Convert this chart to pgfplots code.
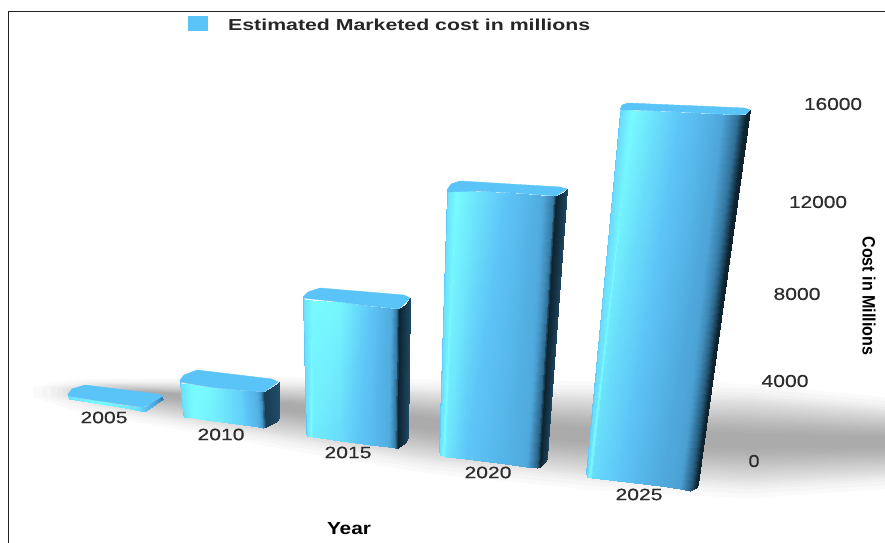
\documentclass[border=0pt]{standalone}
\usepackage{pgfplots}
\usepackage{pgfplotstable}
\usepackage{fontspec}
\setmainfont{Liberation Sans}
\newfontfamily\ticksfont[FakeBold=0.5]{Liberation Sans}
\pgfplotsset{compat=1.18}

\definecolor{topface}{RGB}{90,195,248}
\definecolor{frame}{RGB}{35,35,35}
\definecolor{ticktext}{RGB}{45,45,45}

% Floor shadow: centre line, half width, and how far each layer pulls in on the left
\pgfplotstableread{
x c s d
60 392 4 90
100 395 12 85
200 404 20 70
300 413 28 50
430 426 36 20
600 436 42 0
750 441 44 0
900 441 36 0
900 443 -34 0
750 441 -44 0
600 436 -42 0
430 426 -36 20
300 413 -28 50
200 404 -20 70
100 395 -12 85
60 392 -4 90
}\floorshadow

% Fixed-box label: width, height, text
\newcommand{\lab}[3]{\resizebox{#1bp}{#2bp}{#3}}

\begin{document}
\begin{tikzpicture}
\useasboundingbox (0,0) rectangle (885bp,543bp);
\begin{axis}[
  at={(0,0)}, anchor=south west,
  scale only axis, width=885bp, height=543bp,
  xmin=0, xmax=885, ymin=0, ymax=543, y dir=reverse,
  hide axis,
  point meta min=0, point meta max=5,
  colormap={barface}{
    rgb255=(98,200,248) rgb255=(120,251,255) rgb255=(94,198,247)
    rgb255=(78,166,218) rgb255=(40,95,130) rgb255=(14,36,48)},
  faces/.style={draw=topface, line width=0.4pt, fill=topface, forget plot},
]

% shadow on the floor, built up in layers
\pgfplotsinvokeforeach{1.30,1.20,1.10,1.03,0.97,0.92,0.87,0.82,0.77,0.72,0.67,0.62,0.57,0.52,0.47,0.42,0.36,0.30,0.24,0.18}{
  \addplot[draw=none, fill=black, fill opacity=0.021, forget plot]
    table[x expr=\thisrow{x}+(1-#1)*\thisrow{d}, y expr=\thisrow{c}+#1*\thisrow{s}] {\floorshadow} -- cycle;
}

% 2005
\addplot[surf, shader=interp, mesh/cols=2, point meta=explicit, forget plot]
  table[meta=m] {
x y m
68 396 0.5
69 399 0.5
100 401 1
100 404 1
125 405 1.3
125 408 1.3
140 407 1.6
140 411 1.6
146 406 2.2
146 411 2.2
161 396 3.6
163 399 3.6
};
\addplot[faces] coordinates {
  (68,394) (72,389) (85,385) (158,394) (163,396) (148,405) (142,407) (100,401) (68,396)} -- cycle;

% 2010
\addplot[surf, shader=interp, mesh/cols=2, point meta=explicit, forget plot]
  table[meta=m] {
x y m
180 382 0.2
183 414 0.2
181 383 0.5
184 417 0.5
190 384 0.9
193 418 1.0
210 387 1.1
213 421 1.2
240 390 1.8
243 425 1.8
255 391 2.6
258 427 2.6
261 392 3.4
263 428 3.4
264 392 4.6
266 427 4.6
274 386 4.4
276 422 4.4
279 382 4.3
279 418 4.3
};
\addplot[faces] coordinates {
  (180,380) (184,375) (197,370) (272,379) (278,382) (264,392) (240,390) (210,387) (180,382)} -- cycle;

% 2015
\addplot[surf, shader=interp, mesh/cols=2, point meta=explicit, forget plot]
  table[meta=m] {
x y m
303 298 0
306 433 0
304 299 0.5
307 436 0.5
312 300 1
313 437 1.3
340 302 1.1
340 441 1.6
370 306 2
370 445 2.3
390 308 2.8
388 447 2.8
396 309 3.6
395 448 3.6
399 309 5
398 448 5
406 304 4.6
405 443 4.6
410 298 4.4
408 438 4.4
};
\addplot[faces] coordinates {
  (303,297) (308,292) (320,288) (404,295) (410,298) (399,309) (370,306) (340,302) (303,298)} -- cycle;

% 2020
\addplot[surf, shader=interp, mesh/cols=2, point meta=explicit, forget plot]
  table[meta=m] {
x y m
447 192 0
439 451 0
448 190 0.5
440 455 0.5
456 190 1
446 457 1.4
475 191 1.4
465 459 2
515 193 2.2
505 464 2.6
540 195 2.8
526 467 2.9
553 196 3.6
537 468 4
556 196 5
540 467 5
564 192 4.6
546 461 4.6
567 189 4.4
547 457 4.4
};
\addplot[faces] coordinates {
  (447,190) (451,184) (460,181) (560,187) (567,189) (556,196) (515,193) (475,191) (447,192)} -- cycle;

% 2025
\addplot[surf, shader=interp, mesh/cols=2, point meta=explicit, forget plot]
  table[meta=m] {
x y m
620 112 0
586 473 0
621 109 0.4
587 477 0.4
632 110 1
592 478 1.6
660 111 1.6
617 481 2
700 113 2.4
660 486 2.9
722 114 3
680 489 3.1
738 115 3.8
690 491 4
746 114 5
696 488 5
750 110 5
698 484 5
};
\addplot[faces] coordinates {
  (620,110) (622,105) (628,103) (745,108) (750,110) (746,114) (738,115) (700,113) (660,111) (632,110)} -- cycle;

% legend key
\addplot[draw=none, fill=topface, forget plot] coordinates {(188,16) (208,16) (208,31) (188,31)} -- cycle;

% frame: left and top rules
\addplot[frame, line width=1.3pt, forget plot] coordinates {(8.5,543) (8.5,11.5) (885,11.5)};

\node[inner sep=0, anchor=west] at (axis cs:228,24.5) {\lab{362}{11.5}{\bfseries\color{black!85}Estimated Marketed cost in millions}};

% category names along the front
\node[inner sep=0, text=ticktext] at (axis cs:104,417.5) {\lab{47}{11.5}{\ticksfont 2005}};
\node[inner sep=0, text=ticktext] at (axis cs:221,434.5) {\lab{47}{11.5}{\ticksfont 2010}};
\node[inner sep=0, text=ticktext] at (axis cs:348,452.5) {\lab{47}{11.5}{\ticksfont 2015}};
\node[inner sep=0, text=ticktext] at (axis cs:488,472.5) {\lab{47}{11.5}{\ticksfont 2020}};
\node[inner sep=0, text=ticktext] at (axis cs:639,494.5) {\lab{47}{11.5}{\ticksfont 2025}};

% value scale
\node[inner sep=0, text=ticktext] at (axis cs:833,104) {\lab{58}{12}{\ticksfont 16000}};
\node[inner sep=0, text=ticktext] at (axis cs:818,202) {\lab{58}{12}{\ticksfont 12000}};
\node[inner sep=0, text=ticktext] at (axis cs:797,294) {\lab{47}{12}{\ticksfont 8000}};
\node[inner sep=0, text=ticktext] at (axis cs:785,381) {\lab{47}{12}{\ticksfont 4000}};
\node[inner sep=0, text=ticktext] at (axis cs:754,461) {\lab{11}{12}{\ticksfont 0}};

% axis titles
\node[inner sep=0] at (axis cs:349,528.5) {\lab{44}{12}{\bfseries Year}};
\node[inner sep=0, rotate=-90] at (axis cs:869,296) {\lab{119}{13}{\bfseries Cost in Millions}};
\end{axis}
\end{tikzpicture}
\end{document}
